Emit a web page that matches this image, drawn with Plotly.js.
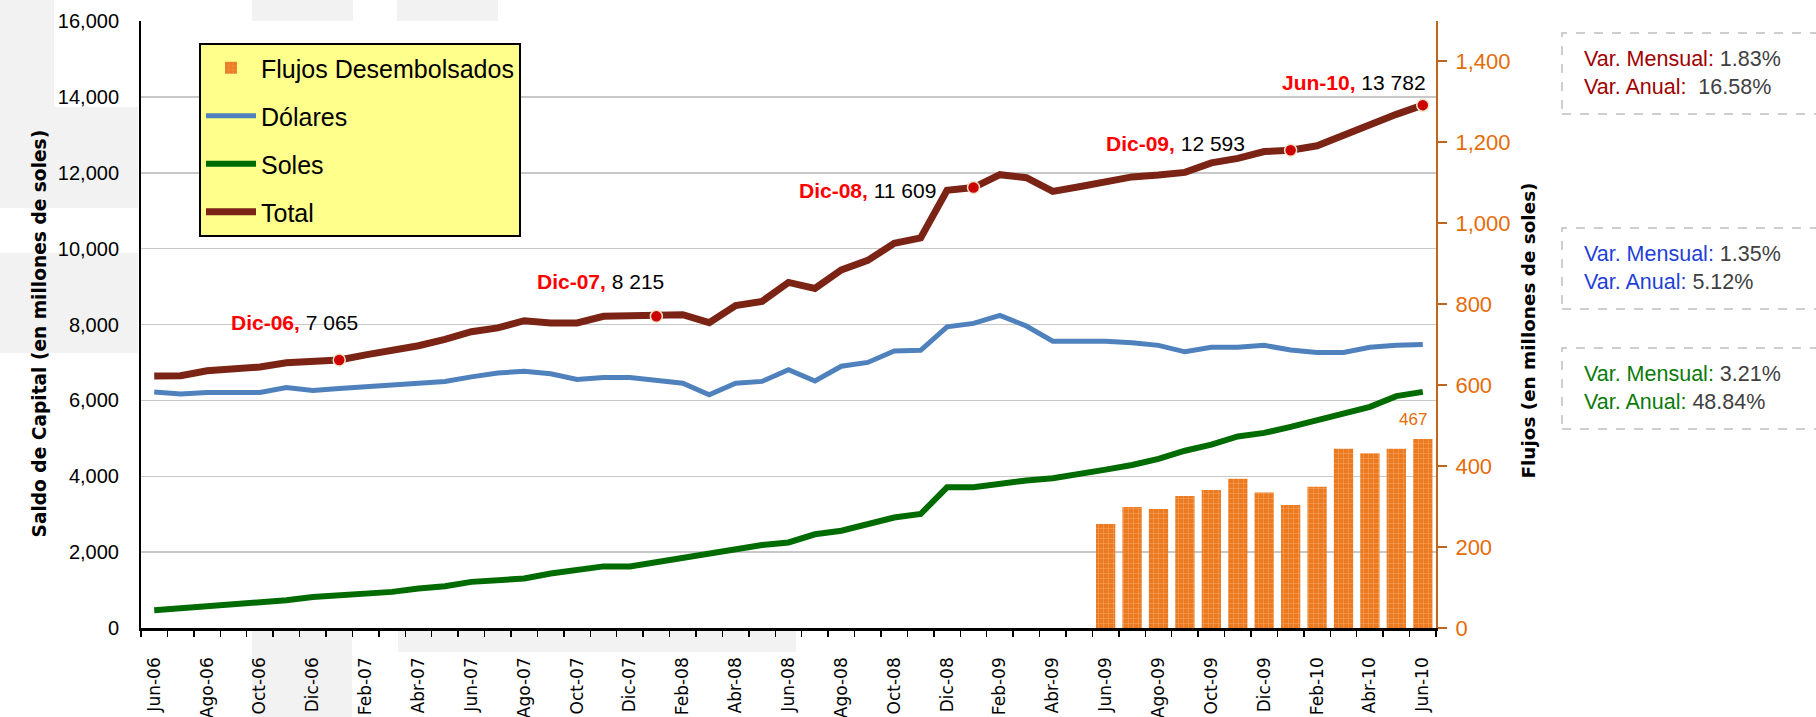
<!DOCTYPE html>
<html>
<head>
<meta charset="utf-8">
<script src="https://cdn.plot.ly/plotly-3.0.1.min.js"></script>
<style>
  html, body { margin: 0; padding: 0; background: #fff; }
  #chart { width: 1816px; height: 717px; }
</style>
</head>
<body>
<div id="chart"></div>
<script>
// meses del eje horizontal (Jun-06 a Jun-10)
const meses = ['Jun-06','Jul-06','Ago-06','Sep-06','Oct-06','Nov-06','Dic-06','Ene-07','Feb-07','Mar-07',
  'Abr-07','May-07','Jun-07','Jul-07','Ago-07','Sep-07','Oct-07','Nov-07','Dic-07','Ene-08',
  'Feb-08','Mar-08','Abr-08','May-08','Jun-08','Jul-08','Ago-08','Sep-08','Oct-08','Nov-08',
  'Dic-08','Ene-09','Feb-09','Mar-09','Abr-09','May-09','Jun-09','Jul-09','Ago-09','Sep-09',
  'Oct-09','Nov-09','Dic-09','Ene-10','Feb-10','Mar-10','Abr-10','May-10','Jun-10'];

// saldo de capital (millones de soles)
const total = [6640, 6650, 6780, 6840, 6880, 6990, 7030, 7065, 7200, 7320,
  7440, 7610, 7810, 7910, 8100, 8040, 8040, 8215, 8215, 8215,
  8260, 8050, 8500, 8610, 9110, 8950, 9440, 9690, 10140, 10280,
  11540, 11609, 11950, 11870, 11510, 11630, 11770, 11890, 11940, 12010,
  12260, 12380, 12560, 12593, 12710, 12995, 13300, 13540, 13782];
const dolares = [6220, 6170, 6210, 6210, 6210, 6340, 6260, 6310, 6350, 6400,
  6440, 6500, 6620, 6720, 6770, 6700, 6550, 6600, 6600, 6510,
  6450, 6150, 6450, 6500, 6810, 6510, 6900, 7000, 7300, 7320,
  7940, 8030, 8240, 7960, 7560, 7560, 7560, 7520, 7450, 7280,
  7400, 7400, 7450, 7330, 7260, 7260, 7400, 7450, 7470];
const soles = [467, 520, 573, 626, 670, 731, 819, 863, 907, 952,
  1040, 1100, 1216, 1260, 1304, 1436, 1530, 1624, 1624, 1737,
  1850, 1972, 2066, 2188, 2254, 2470, 2563, 2723, 2911, 3005,
  3709, 3709, 3803, 3890, 3949, 4043, 4175, 4297, 4457, 4673,
  4833, 5049, 5143, 5303, 5491, 5679, 5830, 6112, 6225];

// flujos desembolsados (eje derecho)
const mesesFlujos = meses.slice(36);
const flujos = [257, 299, 294, 326, 341, 369, 335, 304, 349, 443, 432, 443, 467];

// hitos marcados sobre la serie Total
const hitos = ['Dic-06', 'Dic-07', 'Dic-08', 'Dic-09', 'Jun-10'];
const hitosIdx = [7, 19, 31, 43, 48];

// cuadros de variacion (Total, Dolares, Soles)
const varMensual = ['1.83%', '1.35%', '3.21%'];
const varAnual = ['16.58%', '5.12%', '48.84%'];
const varColores = ['#A00000', '#1F3FD8', '#0B7A0B'];

// geometria en pixeles
const W = 1816, H = 717;
const M = { l: 141, r: 380, t: 21, b: 89 };
const PW = W - M.l - M.r, PH = H - M.t - M.b;
function px(x) { return (x - M.l) / PW; }
function py(y) { return (H - M.b - y) / PH; }

function miles(v) {
  return String(Math.round(v)).replace(/\B(?=(\d{3})+(?!\d))/g, ' ');
}

const FONT = 'Liberation Sans, Arial, sans-serif';
const xi = meses.map((m, i) => i);
const xFlujos = mesesFlujos.map(m => meses.indexOf(m));

const data = [
  {
    type: 'bar', name: 'Flujos Desembolsados', x: xFlujos, y: flujos, yaxis: 'y2',
    width: 0.73, legendgroup: 'a',
    marker: { color: '#EB7A20', line: { width: 0 },
      pattern: { shape: '+', bgcolor: '#EB7A20', fgcolor: '#F4A564', size: 5, solidity: 0.2 } }
  },
  { type: 'scatter', mode: 'lines', name: 'Dólares', x: xi, y: dolares, legendgroup: 'b',
    line: { color: '#4F81BD', width: 5 } },
  { type: 'scatter', mode: 'lines', name: 'Soles', x: xi, y: soles, legendgroup: 'c',
    line: { color: '#006B00', width: 6 } },
  { type: 'scatter', mode: 'lines', name: 'Total', x: xi, y: total, legendgroup: 'd',
    line: { color: '#7B2416', width: 7 } },
  { type: 'scatter', mode: 'markers', x: hitosIdx, y: hitosIdx.map(i => total[i]),
    showlegend: false,
    marker: { size: 12, color: '#CC0000', line: { color: '#EEE3C8', width: 1.5 } } }
];

// desplazamientos de las etiquetas de hitos
const hitoDx = [21, 10, -36, -44, 5];
const hitoDy = [37, 35, -3, 7, 23];

const annotations = [];
hitos.forEach((h, k) => {
  const i = hitosIdx[k];
  annotations.push({
    x: i, y: total[i], xref: 'x', yref: 'y', showarrow: false,
    xanchor: 'right', yanchor: 'middle', xshift: hitoDx[k], yshift: hitoDy[k],
    text: '<b><span style="color:#FF0000">' + h + ',</span></b> ' + miles(total[i]),
    font: { family: FONT, size: 21, color: '#000' }
  });
});
annotations.push({
  x: xFlujos[xFlujos.length - 1], y: flujos[flujos.length - 1], xref: 'x', yref: 'y2',
  showarrow: false, xanchor: 'right', yanchor: 'middle', xshift: 6, yshift: 20,
  text: String(flujos[flujos.length - 1]), font: { family: FONT, size: 17, color: '#E46C0A' }
});
// titulos de ejes
annotations.push({
  x: px(26), y: py(334), xref: 'paper', yref: 'paper', showarrow: false, textangle: -90,
  text: '<b>Saldo de Capital (en millones de soles)</b>',
  font: { family: 'DejaVu Sans, sans-serif', size: 18.6, color: '#000' }
});
annotations.push({
  x: px(1541), y: py(331), xref: 'paper', yref: 'paper', showarrow: false, textangle: -90,
  text: '<b>Flujos (en millones de soles)</b>',
  font: { family: 'DejaVu Sans, sans-serif', size: 18.4, color: '#000' }
});

// cuadros de variacion
const shapes = [];
const cajasY = [[33, 114], [228, 309], [348, 429]];
const textoY = [73.5, 268, 388];
varMensual.forEach((vm, k) => {
  shapes.push({
    type: 'rect', xref: 'paper', yref: 'paper',
    x0: px(1562), x1: px(1830), y0: py(cajasY[k][1]), y1: py(cajasY[k][0]),
    line: { color: '#BFBFBF', width: 1.5, dash: 'dash' }, fillcolor: 'rgba(0,0,0,0)'
  });
  const c = varColores[k];
  annotations.push({
    x: px(1582), y: py(textoY[k]), xref: 'paper', yref: 'paper', showarrow: false,
    xanchor: 'left', yanchor: 'middle', align: 'left',
    text: '<span style="color:' + c + '">Var. Mensual:</span> ' + vm +
      '<br><span style="color:' + c + '">Var. Anual:</span>' + (k === 0 ? '\u00A0 ' : ' ') + varAnual[k],
    font: { family: FONT, size: 21.5, color: '#404040' }
  });
});

// bandas grises del fondo
const bandas = [[252, 353, 0, 21], [397, 498, 0, 21], [0, 54, 0, 107], [0, 138, 107, 208],
  [0, 138, 253, 353], [252, 352, 630, 717], [398, 796, 630, 652]];
bandas.forEach(b => {
  shapes.push({
    type: 'rect', xref: 'paper', yref: 'paper', layer: 'below',
    x0: px(b[0]), x1: px(b[1]), y0: py(b[3]), y1: py(b[2]),
    line: { width: 0 }, fillcolor: '#F2F2F2'
  });
});

const layout = {
  width: W, height: H,
  margin: M,
  paper_bgcolor: '#FFFFFF', plot_bgcolor: 'rgba(0,0,0,0)',
  font: { family: FONT },
  showlegend: true,
  legend: {
    x: px(199), y: py(43), xanchor: 'left', yanchor: 'top',
    bgcolor: '#FFFF8C', bordercolor: '#000', borderwidth: 2,
    font: { family: FONT, size: 25, color: '#000' },
    traceorder: 'grouped', tracegroupgap: 12.5, itemwidth: 50
  },
  xaxis: {
    range: [-0.5, 48.5], tickmode: 'array',
    tickvals: xi.filter(i => i % 2 === 0),
    ticktext: meses.filter((m, i) => i % 2 === 0),
    tickangle: -90, ticks: '', ticklabelstandoff: 20,
    tickfont: { family: 'DejaVu Sans, sans-serif', size: 17, color: '#000' },
    showline: true, linecolor: '#000', linewidth: 2.5,
    showgrid: false, zeroline: false,
    minor: { tick0: 0.5, dtick: 1, ticks: 'outside', ticklen: 6, tickwidth: 1.5,
      tickcolor: '#000', showgrid: false }
  },
  yaxis: {
    range: [0, 16000], tickmode: 'linear', tick0: 0, dtick: 2000, tickformat: ',d',
    ticks: '', ticklabelstandoff: 16,
    tickfont: { family: FONT, size: 20, color: '#000' },
    showline: true, linecolor: '#000', linewidth: 2,
    showgrid: true, gridcolor: '#C8C8C8', gridwidth: 1.5, zeroline: false
  },
  yaxis2: {
    overlaying: 'y', side: 'right', range: [0, 1500], tickmode: 'linear', tick0: 0, dtick: 200,
    tickformat: ',d', ticks: 'outside', ticklen: 9, tickwidth: 2, tickcolor: '#C0651E',
    ticklabelstandoff: 4,
    tickfont: { family: FONT, size: 22, color: '#E46C0A' },
    showline: true, linecolor: '#C0651E', linewidth: 2,
    showgrid: false, zeroline: false
  },
  annotations: annotations,
  shapes: shapes
};

Plotly.newPlot('chart', data, layout, { staticPlot: true });
</script>
</body>
</html>
